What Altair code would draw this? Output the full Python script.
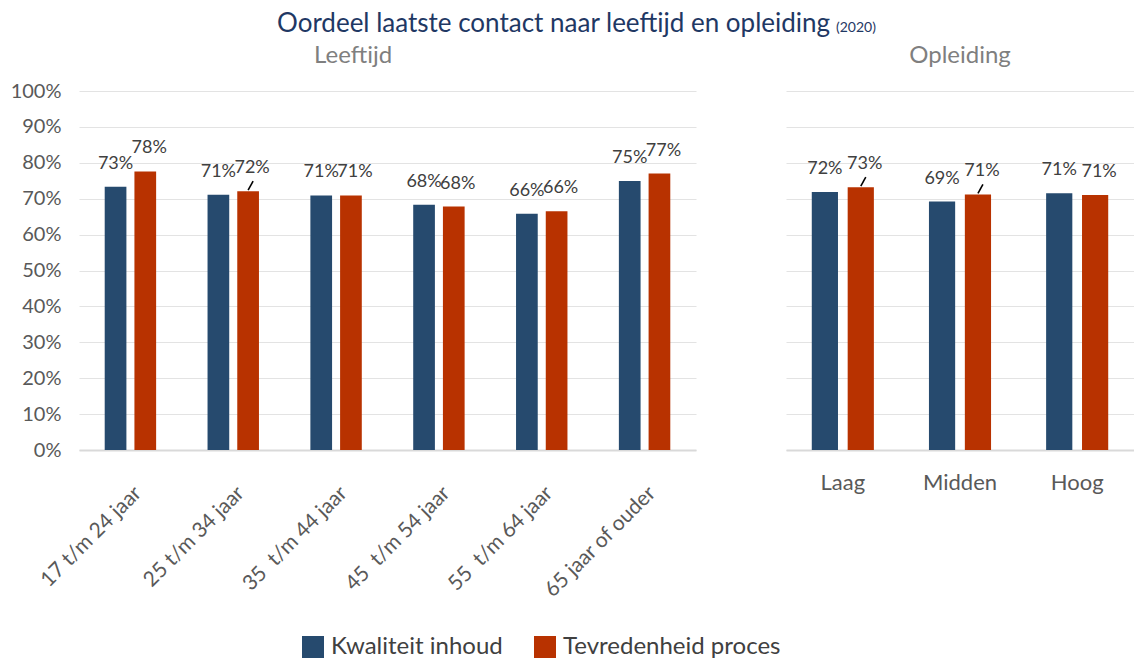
import altair as alt
import pandas as pd

# ---- data ----
age_groups = ["17 t/m 24 jaar", "25 t/m 34 jaar", "35\u00a0 t/m 44 jaar",
              "45\u00a0 t/m 54 jaar", "55\u00a0 t/m 64 jaar", "65 jaar of ouder"]
age_kwaliteit = [0.733, 0.711, 0.709, 0.683, 0.658, 0.749]
age_tevreden = [0.776, 0.721, 0.709, 0.678, 0.665, 0.770]
age_label_k = ["73%", "71%", "71%", "68%", "66%", "75%"]
age_label_t = ["78%", "72%", "71%", "68%", "66%", "77%"]
age_leader_t = [False, True, False, False, False, False]

edu_groups = ["Laag", "Midden", "Hoog"]
edu_kwaliteit = [0.719, 0.692, 0.715]
edu_tevreden = [0.732, 0.712, 0.710]
edu_label_k = ["72%", "69%", "71%"]
edu_label_t = ["73%", "71%", "71%"]
edu_leader_t = [True, True, False]

series = ["Kwaliteit inhoud", "Tevredenheid proces"]
colors = ["#264A6E", "#B83200"]
y_ticks = [0, 0.1, 0.2, 0.3, 0.4, 0.5, 0.6, 0.7, 0.8, 0.9, 1.0]

title_main = "Oordeel laatste contact naar leeftijd en opleiding"
title_year = "(2020)"

FONT = "Lato"
GRAY = "#595959"


def make_df(groups, k, t, lk, lt, ld):
    rows = []
    for g, a, b, la, lb, l2 in zip(groups, k, t, lk, lt, ld):
        rows.append({"groep": g, "reeks": series[0], "waarde": a, "label": la, "leader": False})
        rows.append({"groep": g, "reeks": series[1], "waarde": b, "label": lb, "leader": l2})
    return pd.DataFrame(rows)


df_age = make_df(age_groups, age_kwaliteit, age_tevreden, age_label_k, age_label_t, age_leader_t)
df_edu = make_df(edu_groups, edu_kwaliteit, edu_tevreden, edu_label_k, edu_label_t, edu_leader_t)

color_enc = alt.Color(
    "reeks:N",
    scale=alt.Scale(domain=series, range=colors),
    legend=alt.Legend(
        title=None, orient="none", direction="horizontal",
        legendX=222, legendY=627,
        labelFontSize=24, labelColor="#404040", labelFont=FONT,
        symbolType="square", symbolSize=484, symbolStrokeWidth=0,
        columnPadding=30, labelLimit=400, labelOffset=6,
    ),
)


def panel(df, groups, width, title, show_y, rot, pi, po, title_offset):
    x = alt.X(
        "groep:N", sort=groups, title=None,
        scale=alt.Scale(paddingInner=pi, paddingOuter=po),
        axis=alt.Axis(labelAngle=rot, labelFontSize=21 if rot else 22, labelColor=GRAY,
                      labelFont=FONT, ticks=False, domain=True, domainColor="#D9D9D9",
                      domainWidth=2, labelPadding=32 if rot else 22, labelLimit=300),
    )
    y_axis = alt.Axis(
        values=y_ticks, format=".0%", labels=show_y, ticks=False, domain=False,
        labelFontSize=20, labelColor=GRAY, labelFont=FONT, labelPadding=18,
        grid=True, gridColor="#E3E3E3", gridWidth=1,
    )
    y = alt.Y("waarde:Q", scale=alt.Scale(domain=[0, 1]), title=None, axis=y_axis)
    xoff = alt.XOffset("reeks:N", sort=series, scale=alt.Scale(paddingInner=0.27))
    base = alt.Chart(df).encode(x=x, xOffset=xoff, y=y)
    bars = base.mark_bar().encode(color=color_enc)
    lab_k = base.mark_text(
        baseline="alphabetic", dy=-18, dx=0, fontSize=18, color="#404040", font=FONT
    ).encode(text="label:N", opacity=alt.condition(alt.datum.reeks == series[0], alt.value(1), alt.value(0)))
    lab_t = base.mark_text(
        baseline="alphabetic", dy=-18, dx=4, fontSize=18, color="#404040", font=FONT
    ).encode(text="label:N", opacity=alt.condition(alt.datum.reeks == series[1], alt.value(1), alt.value(0)))
    leaders = base.mark_point(
        shape="M0,-0.1L0.5,-1", filled=False, stroke="#000000", strokeWidth=1.6, size=400,
    ).encode(opacity=alt.condition(alt.datum.leader, alt.value(1), alt.value(0)))
    return alt.layer(bars, leaders, lab_k, lab_t).properties(
        width=width, height=359,
        title=alt.TitleParams(title, fontSize=24, color="#7F7F7F", font=FONT,
                              fontWeight="normal", anchor="middle", frame="bounds",
                              offset=title_offset),
    )


left = panel(df_age, age_groups, 617, "Leeftijd", True, -45, 0.5, 0.25, 13)
right = panel(df_edu, edu_groups, 348, "Opleiding", False, 0, 0.47, 0.22, 23)

body = alt.hconcat(left, right, spacing=90).resolve_scale(
    xOffset="independent", x="independent"
)

head_main = alt.Chart(pd.DataFrame({"t": [title_main]})).mark_text(
    fontSize=26, color="#1F3864", font=FONT, baseline="alphabetic", align="left"
).encode(text="t:N", x=alt.value(198), y=alt.value(24))
head_year = alt.Chart(pd.DataFrame({"t": [title_year]})).mark_text(
    fontSize=14, color="#1F3864", font=FONT, baseline="alphabetic", align="left"
).encode(text="t:N", x=alt.value(757), y=alt.value(24))
head = alt.layer(head_main, head_year).properties(width=1000, height=30)

chart = alt.vconcat(head, body, spacing=6).properties(
    padding={"left": 2, "top": 0, "right": 0, "bottom": 0},
).configure_view(stroke=None)

chart.save("out.html", embed_options={"renderer": "svg", "actions": False})
